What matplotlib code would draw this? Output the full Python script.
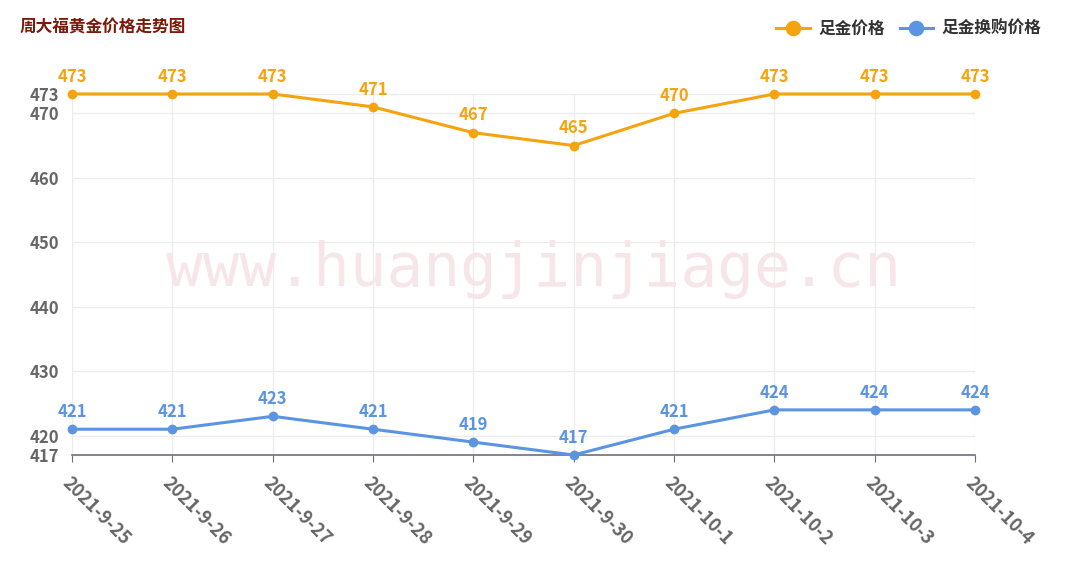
import matplotlib
matplotlib.use("Agg")
import matplotlib.pyplot as plt
import numpy as np

plt.rcParams['font.family'] = ['Noto Sans CJK SC', 'DejaVu Sans']

dates = ["2021-9-25", "2021-9-26", "2021-9-27", "2021-9-28", "2021-9-29",
         "2021-9-30", "2021-10-1", "2021-10-2", "2021-10-3", "2021-10-4"]
gold_price = [473, 473, 473, 471, 467, 465, 470, 473, 473, 473]
exchange_price = [421, 421, 423, 421, 419, 417, 421, 424, 424, 424]
y_ticks = [417, 420, 430, 440, 450, 460, 470, 473]

ORANGE = "#f5a30f"
BLUE = "#5b94e0"
GRAY = "#666666"

fig = plt.figure(figsize=(10.81, 5.61), dpi=100)
ax = fig.add_axes([72 / 1081, 1 - 455 / 561, (975 - 72) / 1081, (455 - 94) / 561])

x = np.arange(len(dates))
ax.plot(x, gold_price, color=ORANGE, lw=2.2, marker="o", ms=6, label="足金价格", zorder=3)
ax.plot(x, exchange_price, color=BLUE, lw=2.2, marker="o", ms=6, label="足金换购价格", zorder=3)

for xi, v in zip(x, gold_price):
    ax.annotate(str(v), (xi, v), xytext=(0, 6), textcoords="offset points",
                ha="center", va="bottom", color=ORANGE, fontsize=12, fontweight="bold")
for xi, v in zip(x, exchange_price):
    ax.annotate(str(v), (xi, v), xytext=(0, 6), textcoords="offset points",
                ha="center", va="bottom", color=BLUE, fontsize=12, fontweight="bold")

ax.set_xlim(0, len(dates) - 1)
ax.set_ylim(417, 473)
ax.set_yticks(y_ticks)
ax.set_yticklabels([str(t) for t in y_ticks], fontsize=12, fontweight="bold", color=GRAY)
ax.set_xticks(x)
ax.set_xticklabels(dates, rotation=-45, ha="left", va="top", rotation_mode="anchor",
                   fontsize=13, fontweight="bold", color=GRAY)

ax.grid(True, color="#ececec", lw=0.9, zorder=0)
for s in ("top", "right", "left"):
    ax.spines[s].set_visible(False)
ax.spines["bottom"].set_color("#6e7079")
ax.spines["bottom"].set_linewidth(1.2)
ax.tick_params(axis="y", length=0, pad=9)
ax.tick_params(axis="x", length=5, color="#6e7079", pad=8)
for ln in ax.lines:
    ln.set_clip_on(False)

# watermark
fig.text(534 / 1081, 1 - 270 / 561, "www.huangjinjiage.cn", ha="center", va="center",
         fontsize=44, color="#f6e6e9", family=["Liberation Sans Narrow", "DejaVu Sans Mono"],
         zorder=0)

fig.text(20 / 1081, 1 - 27 / 561, "周大福黄金价格走势图", ha="left", va="center",
         fontsize=12, fontweight="bold", color="#7a1a0a")

leg = fig.legend(loc="center right", bbox_to_anchor=(1056 / 1081, 1 - 29 / 561), ncol=2,
                 frameon=False, prop={"size": 12, "weight": "bold"},
                 handlelength=2.0, handletextpad=0.5, columnspacing=0.9, markerscale=1.7)
for t in leg.get_texts():
    t.set_color("#333333")

fig.savefig("out.png", dpi=100)
